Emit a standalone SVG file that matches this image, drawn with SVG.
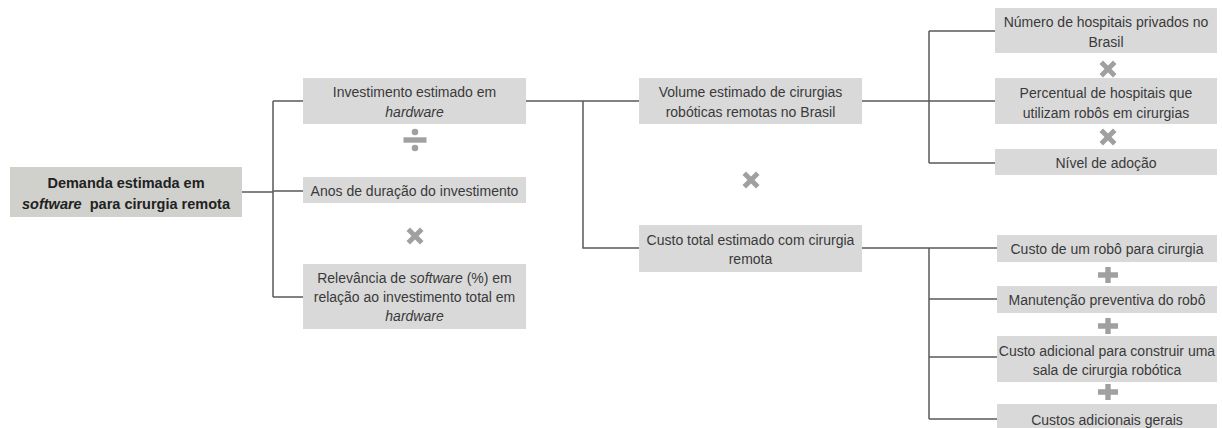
<svg xmlns="http://www.w3.org/2000/svg" xmlns:xlink="http://www.w3.org/1999/xlink" width="1222" height="428" viewBox="0 0 1222 428">
<style>
.box{fill:#d9d9d9}
.root{fill:#d0d0cc}
.t{font-family:"Liberation Sans",Arial,sans-serif;font-size:14px;fill:#3a3a3a;text-anchor:middle}
.tb{font-family:"Liberation Sans",Arial,sans-serif;font-size:14.5px;font-weight:bold;fill:#222;text-anchor:middle}
.i{font-style:italic}
.ln{stroke:#5a5a5a;stroke-width:1.5;fill:none}
.sym{fill:#a0a0a0}
</style>
<defs>
<path id="times" d="M-8.5,-5 L-5,-8.5 L0,-3.5 L5,-8.5 L8.5,-5 L3.5,0 L8.5,5 L5,8.5 L0,3.5 L-5,8.5 L-8.5,5 L-3.5,0 Z"/>
<path id="plus" d="M-2.7,-8 H2.7 V-2.7 H10 V2.7 H2.7 V8 H-2.7 V2.7 H-10 V-2.7 H-2.7 Z"/>
<g id="div"><rect x="-11.5" y="-2.7" width="23" height="5.4"/><circle cx="0" cy="-8" r="3.3"/><circle cx="0" cy="8" r="3.3"/></g>
</defs>
<rect width="1222" height="428" fill="#fff"/>
<g id="connectors">
<path class="ln" d="M242,192 H273 M273,101 V297 M273,101 H303 M273,191 H303 M273,297 H303"/>
<path class="ln" d="M526,101 H640 M583,101 V248 H640"/>
<path class="ln" d="M862,101 H995 M929,31 V163 M929,31 H995 M929,163 H995"/>
<path class="ln" d="M862,248 H997 M929,248 V419 M929,299 H997 M929,357 H997 M929,419 H997"/>
</g>
<g id="operators" class="sym">
<use xlink:href="#div" x="415" y="140"/>
<use xlink:href="#times" x="415" y="236"/>
<use xlink:href="#times" x="751" y="180"/>
<use xlink:href="#times" x="1108" y="69"/>
<use xlink:href="#times" x="1108" y="137"/>
<use xlink:href="#plus" x="1108" y="275"/>
<use xlink:href="#plus" x="1108" y="326"/>
<use xlink:href="#plus" x="1108" y="392"/>
</g>
<g id="root">
<rect class="root" x="10" y="167" width="232" height="50"/>
<text class="tb" x="126" y="188">Demanda estimada em</text>
<text class="tb" x="126" y="209"><tspan class="i">software</tspan>&#160; para cirurgia remota</text>
</g>
<g id="n-investimento">
<rect class="box" x="303" y="78" width="223" height="46"/>
<text class="t" x="414.5" y="97">Investimento estimado em</text>
<text class="t i" x="414.5" y="117">hardware</text>
</g>
<g id="n-anos">
<rect class="box" x="303" y="177" width="223" height="26"/>
<text class="t" x="414.5" y="196">Anos de duração do investimento</text>
</g>
<g id="n-relevancia">
<rect class="box" x="303" y="264" width="223" height="65"/>
<text class="t" x="414.5" y="283">Relevância de <tspan class="i">software</tspan> (%) em</text>
<text class="t" x="414.5" y="302">relação ao investimento total em</text>
<text class="t i" x="414.5" y="321">hardware</text>
</g>
<g id="n-volume">
<rect class="box" x="639" y="78" width="223" height="46"/>
<text class="t" x="750.5" y="97">Volume estimado de cirurgias</text>
<text class="t" x="750.5" y="117">robóticas remotas no Brasil</text>
</g>
<g id="n-custo-total">
<rect class="box" x="639" y="225" width="223" height="47"/>
<text class="t" x="750.5" y="245">Custo total estimado com cirurgia</text>
<text class="t" x="750.5" y="264">remota</text>
</g>
<g id="n-numero">
<rect class="box" x="995" y="8" width="222" height="45"/>
<text class="t" x="1106" y="27">Número de hospitais privados no</text>
<text class="t" x="1106" y="47">Brasil</text>
</g>
<g id="n-percentual">
<rect class="box" x="995" y="78" width="222" height="46"/>
<text class="t" x="1106" y="98">Percentual de hospitais que</text>
<text class="t" x="1106" y="118">utilizam robôs em cirurgias</text>
</g>
<g id="n-nivel">
<rect class="box" x="995" y="149" width="222" height="26"/>
<text class="t" x="1106" y="168">Nível de adoção</text>
</g>
<g id="n-custo-robo">
<rect class="box" x="997" y="235" width="220" height="27"/>
<text class="t" x="1107" y="254">Custo de um robô para cirurgia</text>
</g>
<g id="n-manutencao">
<rect class="box" x="997" y="286" width="220" height="27"/>
<text class="t" x="1107" y="305">Manutenção preventiva do robô</text>
</g>
<g id="n-custo-sala">
<rect class="box" x="997" y="336" width="220" height="46"/>
<text class="t" x="1107" y="356">Custo adicional para construir uma</text>
<text class="t" x="1107" y="375">sala de cirurgia robótica</text>
</g>
<g id="n-custos-gerais">
<rect class="box" x="997" y="404" width="220" height="28"/>
<text class="t" x="1107" y="425">Custos adicionais gerais</text>
</g>
</svg>
